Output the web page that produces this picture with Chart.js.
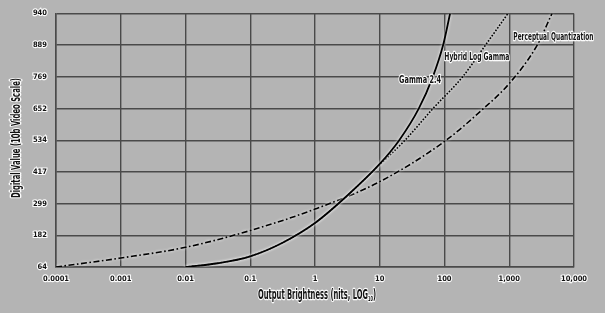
<!DOCTYPE html>
<html>
<head>
<meta charset="utf-8">
<script src="https://cdn.jsdelivr.net/npm/chart.js@4.4.1/dist/chart.umd.min.js"></script>
<style>
  html, body { margin: 0; padding: 0; background: #b4b4b4; }
  #wrap { width: 605px; height: 313px; position: relative; }
  canvas { display: block; }
</style>
</head>
<body>
<div id="wrap"><canvas id="c" width="605" height="313"></canvas></div>
<script>
// ---- data ----
const xTickValues = [0.0001, 0.001, 0.01, 0.1, 1, 10, 100, 1000, 10000];
const xTickLabels = ['0.0001', '0.001', '0.01', '0.1', '1', '10', '100', '1,000', '10,000'];
const yTickLabels = ['64', '182', '299', '417', '534', '652', '769', '889', '940'];
const yMin = 64, yMax = 940;

const gammaNits = [0.01, 0.0316, 0.1, 0.316, 1, 3.16, 10, 20, 40, 66, 95, 122];
const gammaCode = [64, 77, 101, 148, 216, 311, 420, 502, 611, 721, 830, 940];

const hlgNits = [0.01, 0.0316, 0.1, 0.316, 1, 3.16, 10, 24.5, 66, 190, 427, 955];
const hlgCode = [64, 77, 101, 148, 216, 311, 418, 502, 611, 721, 830, 940];

const pqNits = [0.0001, 0.001, 0.01, 0.1, 1, 10, 100, 398, 1000, 2690, 4570];
const pqCode = [64, 95, 132, 190, 264, 359, 498, 611, 698, 830, 940];

const seriesNames = ['Gamma 2.4', 'Hybrid Log Gamma', 'Perceptual Quantization'];

const toPts = (xs, ys) => xs.map((x, i) => ({ x: x, y: ys[i] }));

const FAMILY = "'Liberation Sans Narrow', 'DejaVu Sans Condensed', sans-serif";

function haloText(ctx, parts, cx, cy, targetW, rotate) {
  ctx.save();
  ctx.translate(cx, cy);
  if (rotate) ctx.rotate(-Math.PI / 2);
  let total = 0;
  parts.forEach(p => { ctx.font = 'bold ' + p.size + 'px ' + FAMILY; p.w = ctx.measureText(p.t).width; total += p.w; });
  const s = targetW / total;
  ctx.scale(s, 1);
  let x = -total / 2;
  ctx.textBaseline = 'middle';
  ctx.textAlign = 'left';
  ctx.lineJoin = 'round';
  parts.forEach(p => {
    ctx.font = 'bold ' + p.size + 'px ' + FAMILY;
    ctx.lineWidth = 2.6;
    ctx.strokeStyle = 'rgba(255,255,255,0.95)';
    ctx.strokeText(p.t, x, p.dy || 0);
    ctx.fillStyle = '#111';
    ctx.fillText(p.t, x, p.dy || 0);
    x += p.w;
  });
  ctx.restore();
}

const glowPlugin = {
  id: 'glow',
  beforeDatasetDraw(chart) {
    const ctx = chart.ctx;
    ctx.save();
    ctx.shadowColor = 'rgba(255,255,255,1)';
    ctx.shadowBlur = 3;
  },
  afterDatasetDraw(chart) { chart.ctx.restore(); }
};

const textPlugin = {
  id: 'texts',
  afterDraw(chart) {
    const ctx = chart.ctx;
    const xs = chart.scales.x, ys = chart.scales.y;
    const labels = [
      { t: seriesNames[0], x: 42, y: 708, w: 42 },
      { t: seriesNames[1], x: 316, y: 790, w: 65 },
      { t: seriesNames[2], x: 4800, y: 857, w: 80 }
    ];
    labels.forEach(l => {
      haloText(ctx, [{ t: l.t, size: 10.5 }], xs.getPixelForValue(l.x), ys.getPixelForValue(l.y), l.w, false);
    });
    haloText(ctx, [
      { t: 'Output Brightness (nits, LOG', size: 13.5 },
      { t: '10', size: 7, dy: 4 },
      { t: ')', size: 13.5 }
    ], 317, 295, 118, false);
    haloText(ctx, [{ t: 'Digital Value (10b Video Scale)', size: 12.5 }], 17, 138, 120, true);
  }
};

const gridColor = '#4a4a4a';

new Chart(document.getElementById('c'), {
  type: 'line',
  data: {
    datasets: [
      {
        label: seriesNames[2],
        data: toPts(pqNits, pqCode),
        borderColor: '#000',
        borderWidth: 1.6,
        borderDash: [6, 2.5, 1.6, 2.5],
        pointRadius: 0,
        fill: false,
        cubicInterpolationMode: 'monotone',
        order: 3
      },
      {
        label: seriesNames[1],
        data: toPts(hlgNits, hlgCode),
        borderColor: '#000',
        borderWidth: 1.6,
        borderDash: [1.6, 1.6],
        pointRadius: 0,
        fill: false,
        cubicInterpolationMode: 'monotone',
        order: 2
      },
      {
        label: seriesNames[0],
        data: toPts(gammaNits, gammaCode),
        borderColor: '#000',
        borderWidth: 1.8,
        pointRadius: 0,
        fill: false,
        cubicInterpolationMode: 'monotone',
        order: 1
      }
    ]
  },
  options: {
    responsive: false,
    animation: false,
    events: [],
    layout: { padding: { top: 8, right: 31, left: 0, bottom: 0 } },
    plugins: { legend: { display: false }, tooltip: { enabled: false } },
    scales: {
      x: {
        type: 'logarithmic',
        min: xTickValues[0],
        max: xTickValues[xTickValues.length - 1],
        afterBuildTicks: s => { s.ticks = xTickValues.map(v => ({ value: v })); },
        afterFit: s => { s.height = 46; },
        grid: { color: gridColor, lineWidth: 1.4, drawTicks: false },
        border: { display: true, color: gridColor, width: 1.5 },
        ticks: {
          autoSkip: false,
          maxRotation: 0,
          padding: 8,
          color: '#111',
          textStrokeColor: 'rgba(255,255,255,0.95)',
          textStrokeWidth: 2.2,
          font: { family: FAMILY, size: 7.5, weight: 'bold' },
          callback: (v, i) => xTickLabels[i]
        }
      },
      y: {
        type: 'linear',
        min: yMin,
        max: yMax,
        afterBuildTicks: s => { s.ticks = yTickLabels.map((l, i) => ({ value: yMin + i * (yMax - yMin) / (yTickLabels.length - 1) })); },
        afterFit: s => { s.width = 56; },
        grid: { color: gridColor, lineWidth: 1.4, drawTicks: false },
        border: { display: true, color: gridColor, width: 1.5 },
        ticks: {
          autoSkip: false,
          padding: 9,
          color: '#111',
          textStrokeColor: 'rgba(255,255,255,0.95)',
          textStrokeWidth: 2.2,
          font: { family: FAMILY, size: 7.5, weight: 'bold' },
          callback: (v, i) => yTickLabels[i]
        }
      }
    }
  },
  plugins: [glowPlugin, textPlugin]
});
</script>
</body>
</html>
